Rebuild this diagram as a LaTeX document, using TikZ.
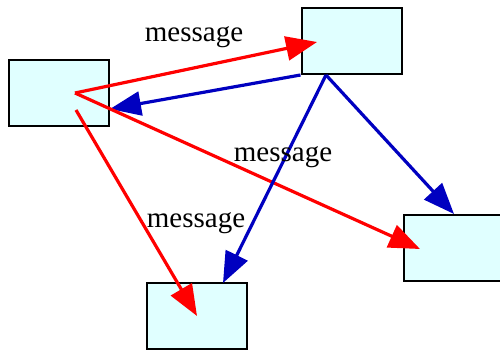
\documentclass[tikz,border=0pt]{standalone}
\usepackage{fontspec}
\setmainfont{Liberation Serif}
\usetikzlibrary{arrows.meta}
\definecolor{BoxCyan}{HTML}{E0FFFF}
\definecolor{EdgeBlue}{HTML}{0000C0}

\begin{document}
\begin{tikzpicture}[x=1pt, y=-1pt,
    box/.style={draw, rectangle, line width=2pt, fill=BoxCyan, minimum width=100pt, minimum height=66pt, inner sep=0pt},
    msg/.style={line width=3.2pt, red, -{Triangle[length=31pt, width=24pt]}},
    reply/.style={line width=3.2pt, EdgeBlue, -{Triangle[length=31pt, width=24pt]}},
    lbl/.style={anchor=base, font=\fontsize{29}{35}\selectfont}]
        \clip (0,0) rectangle (500,352);

        \node[box] (left) at (59,93) {};
        \node[box] (top) at (351.5,41) {};
        \node[box] (bottom) at (197,316) {};
        \node[box] (right) at (454,248) {};

        \coordinate (leftout) at (75,93);
        \coordinate (leftlow) at (76,110);
        \coordinate (leftin) at (110,109);
        \coordinate (topin) at (317,42);
        \coordinate (topout) at (326,75);
        \coordinate (rightin) at (420,249);
        \coordinate (bottomin) at (223,283);

        \draw[msg] (leftout) -- (topin);
        \draw[reply] (top.south west) -- (leftin);
        \draw[msg] (leftout) -- (rightin);
        \draw[msg] (leftlow) -- (bottom.center);
        \draw[reply] (topout) -- (bottomin);
        \draw[reply] (topout) -- (right.north);

        \node[lbl] (msgtop) at (194,42) {message};
        \node[lbl] (msgmid) at (283,162) {message};
        \node[lbl] (msglow) at (196,228) {message};
    \end{tikzpicture}
\end{document}
